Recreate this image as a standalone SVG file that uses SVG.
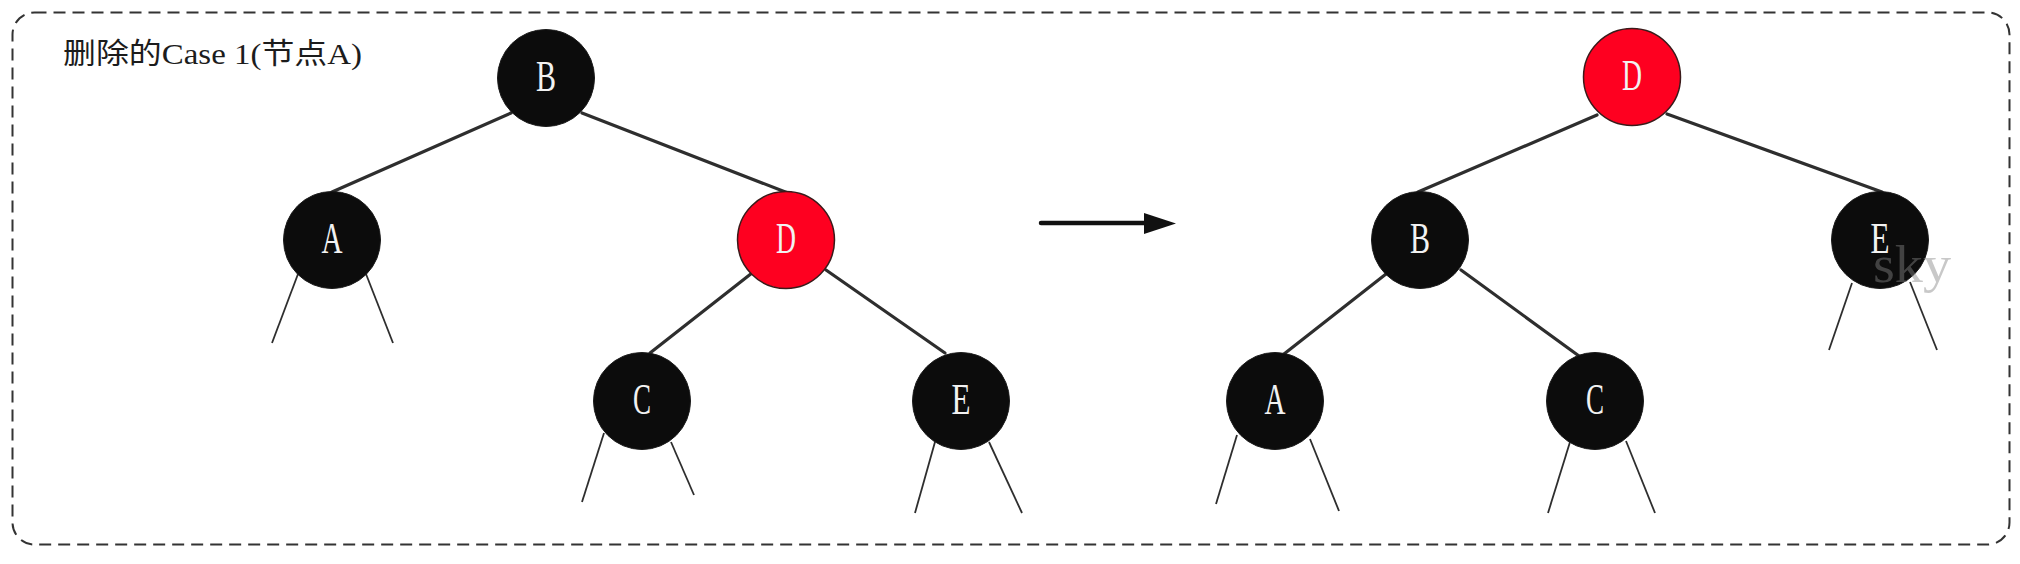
<svg xmlns="http://www.w3.org/2000/svg" width="2020" height="564" viewBox="0 0 2020 564">
<defs>
<style>
.frame{fill:none;stroke:#333;stroke-width:2;stroke-dasharray:12 7}
.blk{fill:#0c0c0c;stroke:#1a1a1a;stroke-width:1}
.red{fill:#fe0020;stroke:#3a1a1a;stroke-width:1.5}
.lbl{font-family:"Liberation Serif",serif;font-size:44px;fill:#f2f2f2;text-anchor:middle}
.edge{stroke:#2e2e2e;stroke-width:3.2;stroke-linecap:round;fill:none}
.leaf{stroke:#2e2e2e;stroke-width:1.8;fill:none}
.title{font-family:"Liberation Serif","Noto Sans CJK SC",serif;font-size:29px;fill:#1c1c1c}
.wm{font-family:"Liberation Serif",serif;font-size:53px;fill:#848484;fill-opacity:0.45}
</style>
</defs>
<rect width="2020" height="564" fill="#fff"/>
<rect class="frame" x="12.5" y="12.5" width="1997" height="532" rx="22" ry="22"/>
<text class="title" x="63" y="64" textLength="299" lengthAdjust="spacingAndGlyphs">删除的Case 1(节点A)</text>

<g id="connectors">
  <line class="edge" x1="511" y1="113" x2="332" y2="192"/>
  <line class="edge" x1="582" y1="113" x2="788" y2="193"/>
  <line class="edge" x1="752" y1="273" x2="650" y2="353"/>
  <line class="edge" x1="826" y1="270" x2="945" y2="353"/>
  <line class="leaf" x1="298" y1="274" x2="272" y2="343"/>
  <line class="leaf" x1="366" y1="274" x2="393" y2="343"/>
  <line class="leaf" x1="604" y1="433" x2="582" y2="502"/>
  <line class="leaf" x1="671" y1="442" x2="694" y2="495"/>
  <line class="leaf" x1="935" y1="442" x2="915" y2="513"/>
  <line class="leaf" x1="989" y1="442" x2="1022" y2="513"/>

  <line class="edge" x1="1597" y1="115" x2="1418" y2="192"/>
  <line class="edge" x1="1667" y1="114" x2="1882" y2="192"/>
  <line class="edge" x1="1386" y1="274" x2="1284" y2="354"/>
  <line class="edge" x1="1461" y1="270" x2="1579" y2="356"/>
  <line class="leaf" x1="1237" y1="435" x2="1216" y2="504"/>
  <line class="leaf" x1="1310" y1="439" x2="1339" y2="511"/>
  <line class="leaf" x1="1570" y1="442" x2="1548" y2="513"/>
  <line class="leaf" x1="1626" y1="441" x2="1655" y2="513"/>
  <line class="leaf" x1="1852" y1="283" x2="1829" y2="350"/>
  <line class="leaf" x1="1910" y1="282" x2="1937" y2="350"/>

  <line x1="1041" y1="223" x2="1146" y2="223" stroke="#111" stroke-width="4.5" stroke-linecap="round"/>
  <polygon points="1144,213 1176,223.5 1144,234" fill="#111"/>
</g>

<g id="L-B"><circle class="blk" cx="546" cy="78" r="48.5"/><text class="lbl" x="546" y="91" textLength="20" lengthAdjust="spacingAndGlyphs">B</text></g>
<g id="L-A"><circle class="blk" cx="332" cy="240" r="48.5"/><text class="lbl" x="332" y="253" textLength="21" lengthAdjust="spacingAndGlyphs">A</text></g>
<g id="L-D"><circle class="red" cx="786" cy="240" r="48.5"/><text class="lbl" x="786" y="253" textLength="20" lengthAdjust="spacingAndGlyphs">D</text></g>
<g id="L-C"><circle class="blk" cx="642" cy="401" r="48.5"/><text class="lbl" x="642" y="414" textLength="18" lengthAdjust="spacingAndGlyphs">C</text></g>
<g id="L-E"><circle class="blk" cx="961" cy="401" r="48.5"/><text class="lbl" x="961" y="414" textLength="19" lengthAdjust="spacingAndGlyphs">E</text></g>

<g id="R-D"><circle class="red" cx="1632" cy="77" r="48.5"/><text class="lbl" x="1632" y="90" textLength="20" lengthAdjust="spacingAndGlyphs">D</text></g>
<g id="R-B"><circle class="blk" cx="1420" cy="240" r="48.5"/><text class="lbl" x="1420" y="253" textLength="20" lengthAdjust="spacingAndGlyphs">B</text></g>
<g id="R-E"><circle class="blk" cx="1880" cy="240" r="48.5"/><text class="lbl" x="1880" y="253" textLength="19" lengthAdjust="spacingAndGlyphs">E</text></g>
<g id="R-A"><circle class="blk" cx="1275" cy="401" r="48.5"/><text class="lbl" x="1275" y="414" textLength="21" lengthAdjust="spacingAndGlyphs">A</text></g>
<g id="R-C"><circle class="blk" cx="1595" cy="401" r="48.5"/><text class="lbl" x="1595" y="414" textLength="18" lengthAdjust="spacingAndGlyphs">C</text></g>

<text class="wm" x="1873" y="282" textLength="78" lengthAdjust="spacingAndGlyphs">sky</text>
</svg>
